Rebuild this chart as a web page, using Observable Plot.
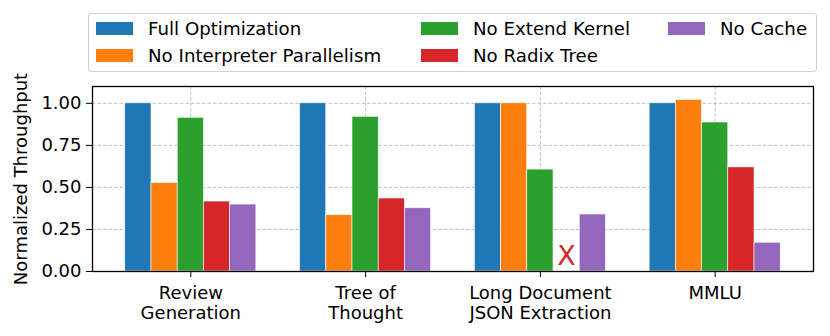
<!DOCTYPE html>
<html>
<head>
<meta charset="utf-8">
<script src="https://cdn.jsdelivr.net/npm/d3@7"></script>
<script src="https://cdn.jsdelivr.net/npm/@observablehq/plot@0.6"></script>
<style>
  body { margin: 0; background: #fff; font-family: "DejaVu Sans", sans-serif; }
  #wrap { position: relative; width: 830px; height: 336px; }
  #legend { position: absolute; left: 88px; top: 13px; width: 729px; height: 59px;
    border: 1px solid #d0d0d0; border-radius: 3px; background: rgba(255,255,255,0.8);
    font-size: 18.2px; color: #000; box-sizing: border-box; }
  .item { position: absolute; display: flex; align-items: center; height: 20px; white-space: nowrap; }
  .sw { width: 37px; height: 13px; margin-right: 15px; }
</style>
</head>
<body>
<div id="wrap"><div id="plot"></div><div id="legend"></div></div>
<script>
const categories = ["Review\nGeneration", "Tree of\nThought", "Long Document\nJSON Extraction", "MMLU"];
const series = ["Full Optimization", "No Interpreter Parallelism", "No Extend Kernel", "No Radix Tree", "No Cache"];
const colors = ["#1f77b4", "#ff7f0e", "#2ca02c", "#d62728", "#9467bd"];
const fullOptimization = [1.00, 1.00, 1.00, 1.00];
const noInterpreterParallelism = [0.526, 0.335, 1.00, 1.02];
const noExtendKernel = [0.914, 0.920, 0.606, 0.886];
const noRadixTree = [0.416, 0.434, null, 0.619];
const noCache = [0.398, 0.376, 0.339, 0.171];
const yTicks = [0, 0.25, 0.5, 0.75, 1.0];

const seriesValues = [fullOptimization, noInterpreterParallelism, noExtendKernel, noRadixTree, noCache];
const barWidth = 0.15;
const rows = [];
const missing = [];
categories.forEach((c, ci) => {
  series.forEach((s, si) => {
    const v = seriesValues[si][ci];
    const center = ci + (si - 2) * barWidth;
    if (v == null) missing.push({x: center, y: 0, s});
    else rows.push({cat: c, series: s, value: v, x1: center - barWidth / 2, x2: center + barWidth / 2});
  });
});

const chart = Plot.plot({
  width: 830,
  height: 336,
  marginTop: 86,
  marginLeft: 92,
  marginRight: 17,
  marginBottom: 65,
  style: {fontFamily: "DejaVu Sans", fontSize: "18px", color: "#000", background: "transparent"},
  x: {domain: [-0.5625, 3.5625]},
  y: {domain: [0, 1.1]},
  color: {domain: series, range: colors},
  marks: [
    Plot.gridY(yTicks, {stroke: "#b0b0b0", strokeOpacity: 1, strokeDasharray: "3.5,2", strokeWidth: 0.8}),
    Plot.gridX(d3.range(categories.length), {stroke: "#b0b0b0", strokeOpacity: 1, strokeDasharray: "3.5,2", strokeWidth: 0.8}),
    Plot.rectY(rows, {x1: "x1", x2: "x2", y: "value", fill: "series", stroke: "white", strokeWidth: 0.6}),
    Plot.text(missing, {x: "x", y: "y", text: () => "X", fill: "#d62728", fontSize: 27, dy: -15}),
    Plot.axisY(yTicks, {tickFormat: d3.format(".2f"), tickSize: 6, tickPadding: 5, label: "Normalized Throughput", labelArrow: "none", labelAnchor: "center", labelOffset: 78, fontSize: 18}),
    Plot.axisX(d3.range(categories.length), {tickFormat: i => categories[i], tickSize: 6, tickPadding: 7, label: null, fontSize: 18, lineHeight: 1.12}),
    Plot.frame({stroke: "#000", strokeWidth: 1.3})
  ]
});
document.getElementById("plot").appendChild(chart);

const legend = document.getElementById("legend");
const positions = [[7, 4], [7, 31], [332, 4], [332, 31], [579, 4]];
series.forEach((s, i) => {
  const d = document.createElement("div");
  d.className = "item";
  d.style.left = positions[i][0] + "px";
  d.style.top = positions[i][1] + "px";
  const sw = document.createElement("div");
  sw.className = "sw";
  sw.style.background = colors[i];
  d.appendChild(sw);
  d.appendChild(document.createTextNode(s));
  legend.appendChild(d);
});
</script>
</body>
</html>
